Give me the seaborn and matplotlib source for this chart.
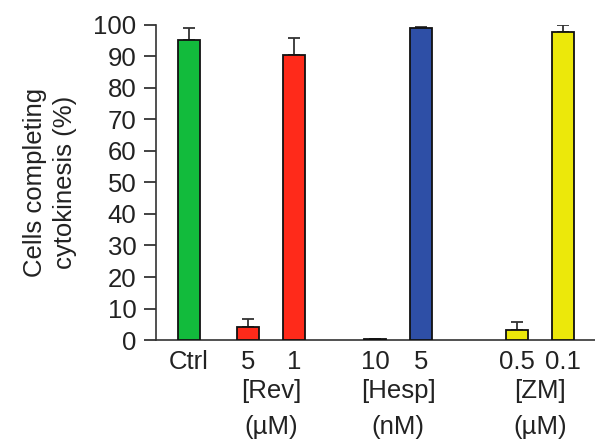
import numpy as np
import matplotlib
matplotlib.use('Agg')
import matplotlib.pyplot as plt
import matplotlib.transforms as mtransforms
import seaborn as sns

# data
conditions = ['Ctrl', '5', '1', '10', '5', '0.5', '0.1']
positions = [0, 1.28, 2.28, 4.05, 5.05, 7.13, 8.13]
values = [95.2, 4.0, 90.5, 0.4, 99.0, 3.2, 97.7]
errors = [3.8, 2.6, 5.5, 0.0, 0.3, 2.4, 2.3]
colors = ['#12bb3c', '#ff2a1a', '#ff2a1a', '#2e4fa6', '#2e4fa6', '#ece80a', '#ece80a']
groups = [('[Rev]', '(\u00b5M)'), ('[Hesp]', '(nM)'), ('[ZM]', '(\u00b5M)')]
group_centers = [1.78, 4.55, 7.63]

FS = 18.5

sns.set_style('ticks')
plt.rcParams['font.family'] = ['Liberation Sans', 'DejaVu Sans']

fig = plt.figure(figsize=(5.95, 4.41), dpi=100)
ax = fig.add_axes([0.2622, 0.229, 0.7378, 0.7144])

sns.barplot(x=positions, y=values, native_scale=True, width=0.48,
            errorbar=None, color='white', edgecolor='#111111', linewidth=1.3, ax=ax)
for patch, c in zip(ax.patches, colors):
    patch.set_facecolor(c)
    patch.set_zorder(3)

ax.errorbar(positions, values, yerr=[np.zeros(len(errors)), errors], fmt='none',
            ecolor='#333333', elinewidth=1.3, capsize=4, capthick=1.3, zorder=2)

ax.set_xlim(-0.717, 8.83)
ax.set_ylim(0, 100)
ax.set_yticks(range(0, 101, 10))
ax.set_xticks(positions)
ax.set_xticklabels(conditions)
ax.tick_params(axis='x', length=0, pad=7, labelsize=FS, colors='#222222')
ax.tick_params(axis='y', length=9, width=1.2, pad=5, labelsize=FS, colors='#222222', direction='out')
ax.set_ylabel('Cells completing\ncytokinesis (%)', fontsize=FS, linespacing=1.3,
              labelpad=12, color='#222222')

sns.despine(ax=ax)
for side in ['left', 'bottom']:
    ax.spines[side].set_linewidth(1.2)
    ax.spines[side].set_color('#333333')

trans = mtransforms.blended_transform_factory(ax.transData, ax.transAxes)
for (name, unit), xc in zip(groups, group_centers):
    ax.text(xc, -0.162, name, transform=trans, ha='center', va='center',
            fontsize=FS, color='#222222')
    ax.text(xc, -0.276, unit, transform=trans, ha='center', va='center',
            fontsize=FS, color='#222222')

fig.savefig('out.png', dpi=100)
